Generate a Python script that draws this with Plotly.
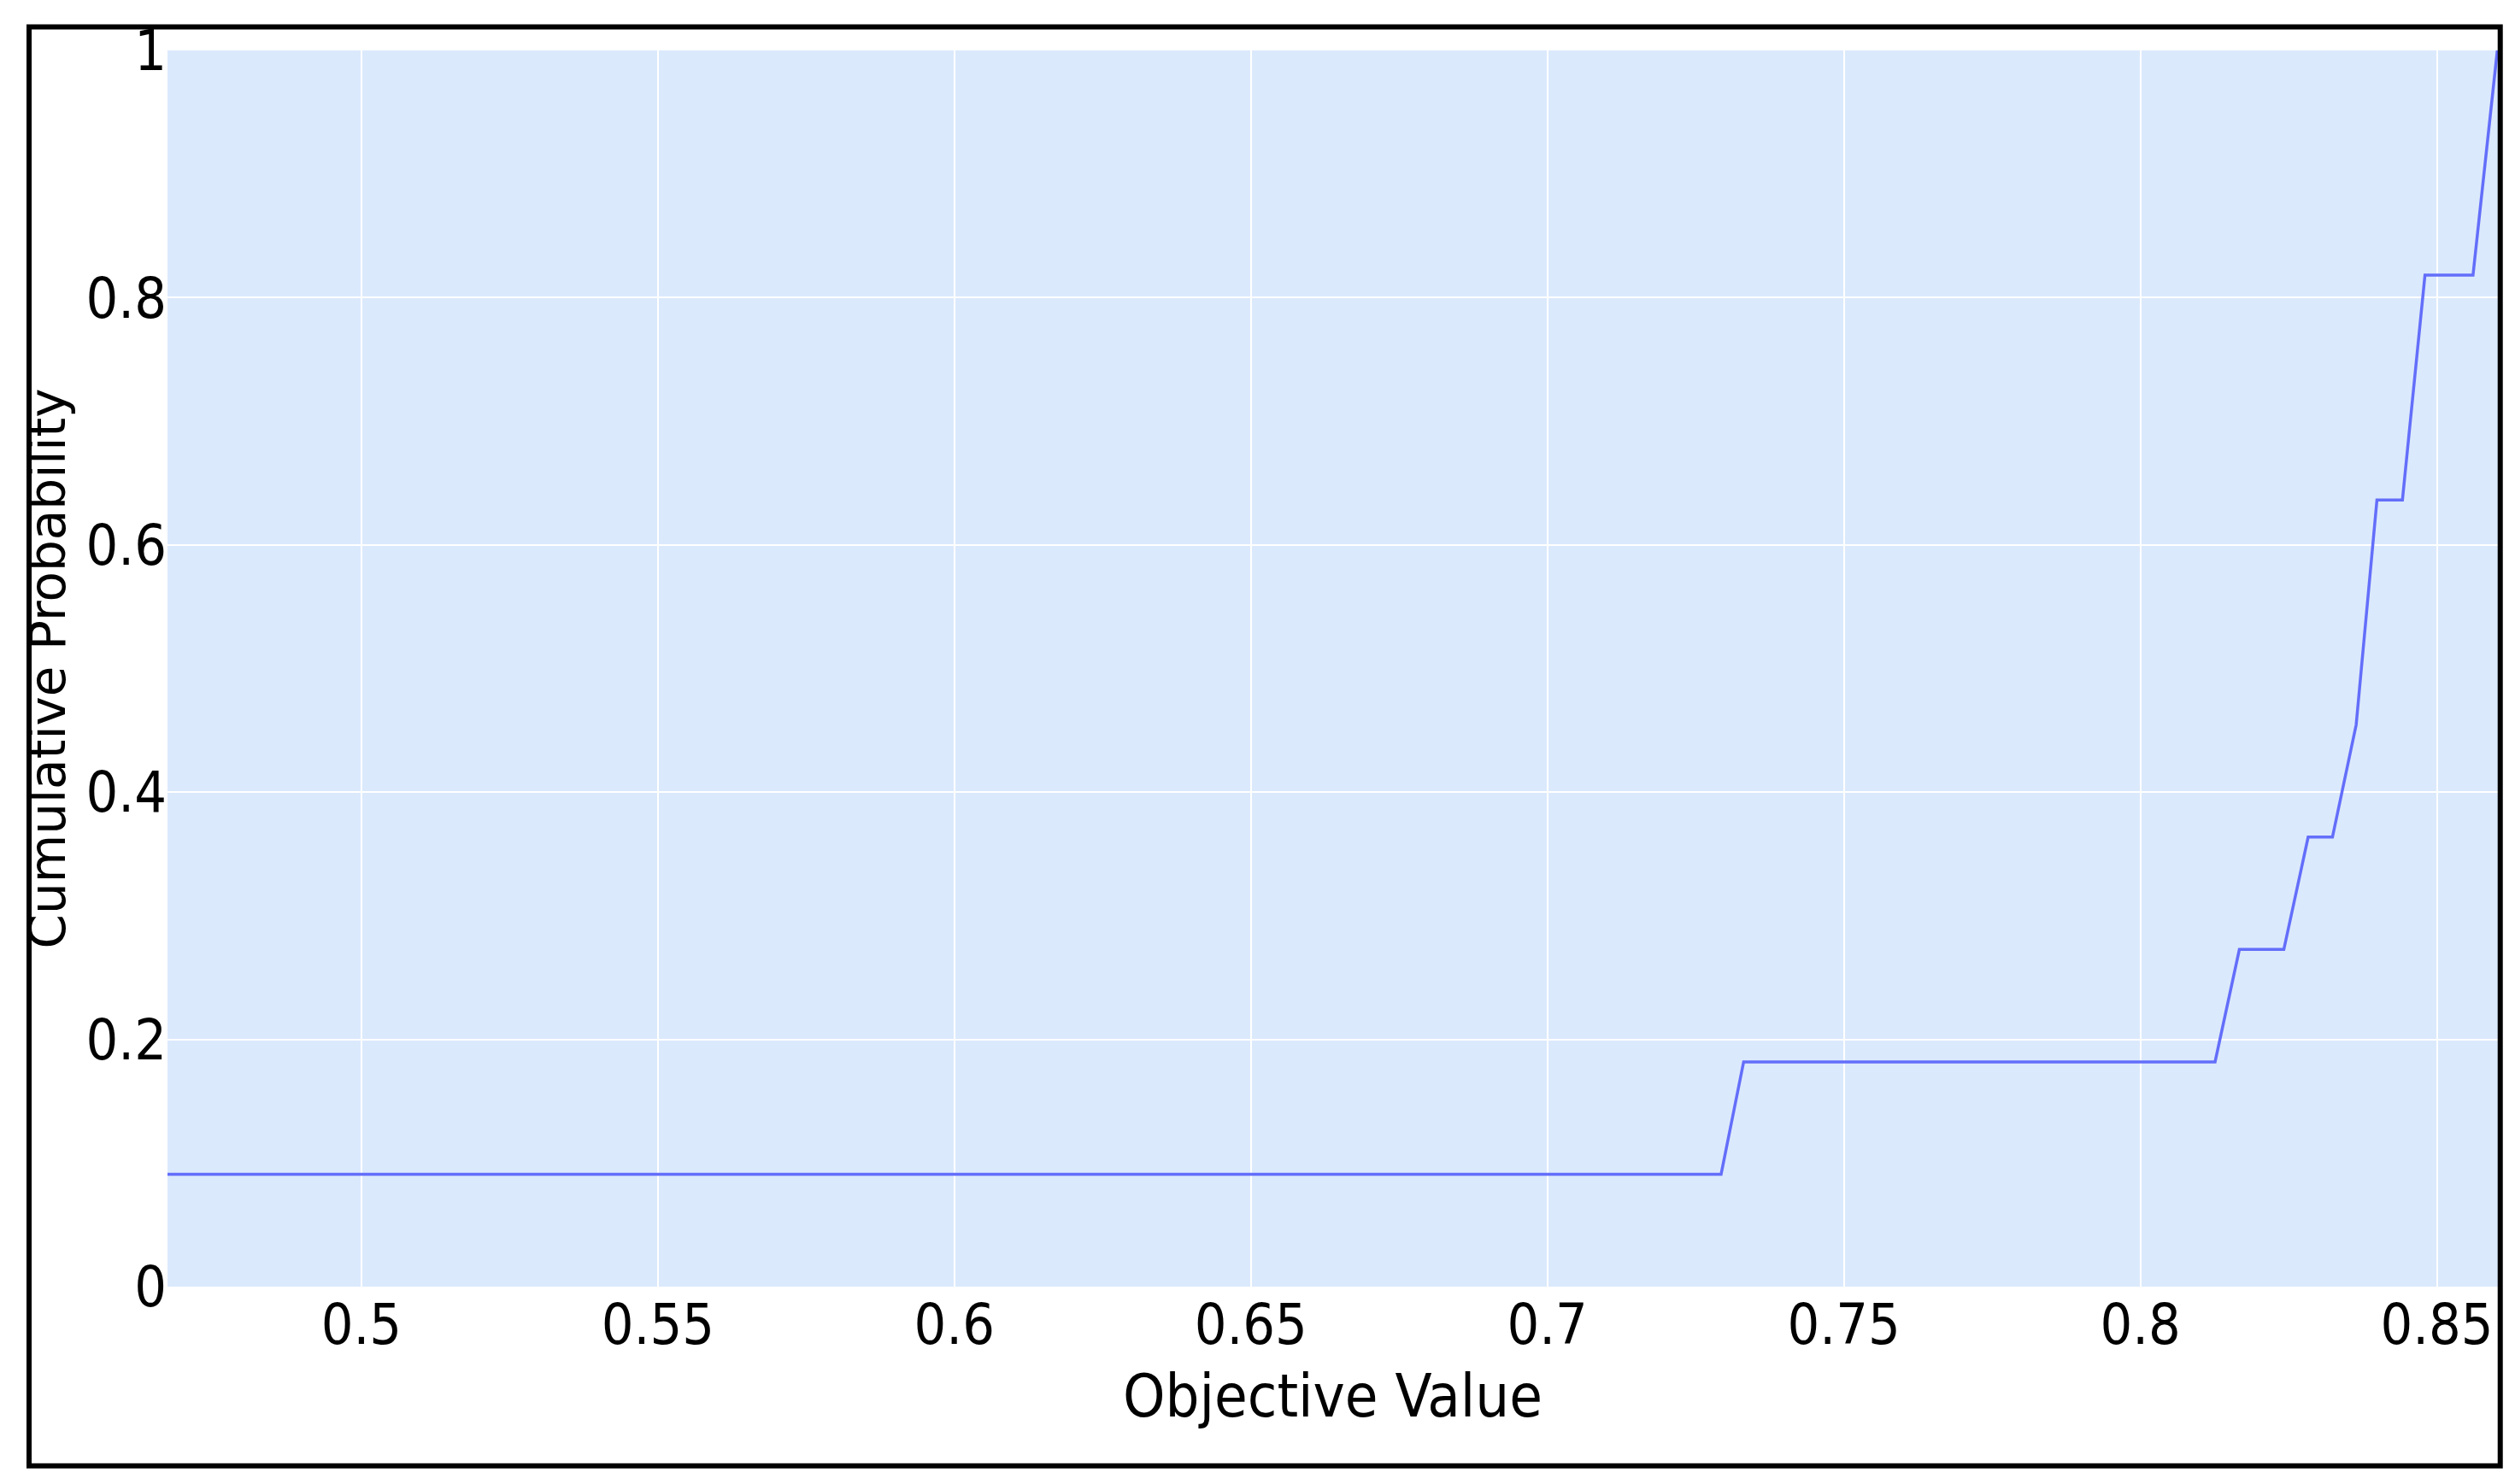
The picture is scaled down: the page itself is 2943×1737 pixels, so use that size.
import plotly.graph_objects as go

objective_values = [0.4673, 0.7293, 0.7331, 0.8126, 0.8167, 0.8242, 0.8283, 0.8324,
                    0.8364, 0.8399, 0.8442, 0.8480, 0.8561, 0.8602]
cumulative_prob = [1/11, 1/11, 2/11, 2/11, 3/11, 3/11, 4/11, 4/11,
                   5/11, 7/11, 7/11, 9/11, 9/11, 1.0]
x_ticks = [0.5, 0.55, 0.6, 0.65, 0.7, 0.75, 0.8, 0.85]
y_ticks = [0, 0.2, 0.4, 0.6, 0.8, 1]

font = "DejaVu Sans Condensed, Liberation Sans Narrow, sans-serif"
fig = go.Figure(go.Scatter(x=objective_values, y=cumulative_prob, mode="lines",
                           line=dict(color="#636efa", width=3.5)))
fig.update_layout(
    width=2943, height=1737, paper_bgcolor="white", plot_bgcolor="#dbe9fc",
    margin=dict(l=188, r=28, t=51, b=239), showlegend=False,
    font=dict(family=font, color="black", size=66),
    xaxis=dict(range=[0.4673, 0.8603], tickvals=x_ticks, ticktext=[str(v) for v in x_ticks],
               gridcolor="white", gridwidth=2, zeroline=False, ticklen=0,
               title=dict(text="Objective Value", font=dict(size=70), standoff=20),
               tickfont=dict(size=66)),
    yaxis=dict(range=[0, 1], tickvals=y_ticks, ticktext=["0", "0.2", "0.4", "0.6", "0.8", "1"],
               gridcolor="white", gridwidth=2, zeroline=False,
               title=dict(text="Cumulative Probability", font=dict(family="DejaVu Sans", size=58), standoff=5),
               tickfont=dict(size=66)),
    shapes=[dict(type="rect", xref="paper", yref="paper", x0=-0.0594, x1=1.001,
                 y0=-0.145, y1=1.019, line=dict(color="black", width=6))],
)
fig.write_html("out.html")
